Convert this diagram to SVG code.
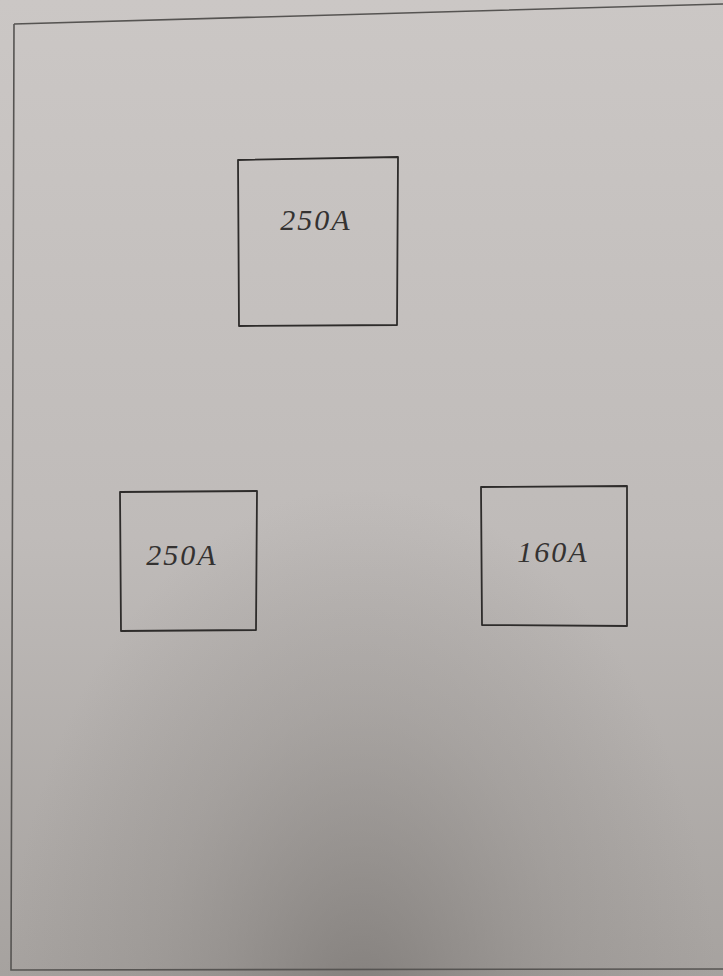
<svg xmlns="http://www.w3.org/2000/svg" width="723" height="976" viewBox="0 0 723 976">
<defs>
<linearGradient id="bgv" x1="0" y1="0" x2="0" y2="1">
<stop offset="0" stop-color="#cbc7c5"/>
<stop offset="0.55" stop-color="#bfbbb9"/>
<stop offset="1" stop-color="#a6a29f"/>
</linearGradient>
<radialGradient id="shade" cx="0.5" cy="1.05" r="0.55" gradientTransform="translate(0.05 0) scale(0.9 1)">
<stop offset="0" stop-color="#75716e" stop-opacity="0.75"/>
<stop offset="0.6" stop-color="#8a8683" stop-opacity="0.3"/>
<stop offset="1" stop-color="#8a8683" stop-opacity="0"/>
</radialGradient>
<style>
.frame{fill:none;stroke:#565452;stroke-width:1.6}
.box{fill:none;stroke:#2e2c2b;stroke-width:1.8;stroke-linejoin:round}
.lbl{font-family:"Liberation Serif",serif;font-style:italic;font-size:30px;letter-spacing:2px;fill:#343231;text-anchor:middle}
</style>
</defs>
<rect width="723" height="976" fill="url(#bgv)"/>
<rect width="723" height="976" fill="url(#shade)"/>
<path class="frame" d="M14,24 L723,4 M14,24 L11,970 L723,969"/>
<g id="box-top">
<path class="box" d="M238,160 L398,157 L397,325 L239,326 Z"/>
<text class="lbl" x="316" y="230">250A</text>
</g>
<g id="box-left">
<path class="box" d="M120,492 L257,491 L256,630 L121,631 Z"/>
<text class="lbl" x="182" y="565">250A</text>
</g>
<g id="box-right">
<path class="box" d="M481,487 L627,486 L627,626 L482,625 Z"/>
<text class="lbl" x="553" y="562">160A</text>
</g>
<g id="connectors"/>
</svg>
